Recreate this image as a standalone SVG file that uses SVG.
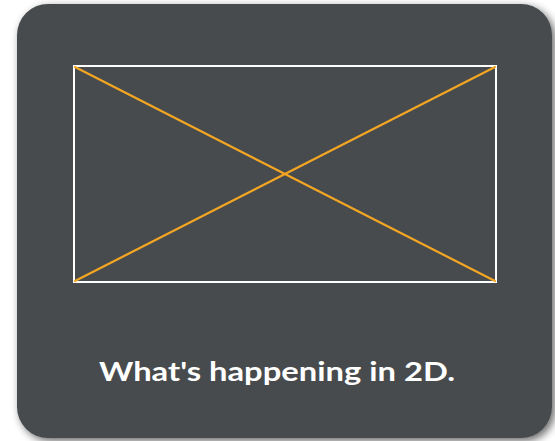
<svg xmlns="http://www.w3.org/2000/svg" width="555" height="441" viewBox="0 0 555 441">
<defs>
<filter id="sh" x="-10%" y="-10%" width="125%" height="125%">
<feGaussianBlur in="SourceAlpha" stdDeviation="4"/>
<feOffset dx="3" dy="3" result="b"/>
<feComponentTransfer><feFuncA type="linear" slope="0.6"/></feComponentTransfer>
<feMerge><feMergeNode/><feMergeNode in="SourceGraphic"/></feMerge>
</filter>
<style>
.card{fill:#464c4e}
.frame{fill:none;stroke:#ffffff;stroke-width:2}
.diag{stroke:#f5a623;stroke-width:2.2;stroke-linecap:round}
.lbl{fill:#ffffff;font-family:"Lato","Noto Sans",sans-serif;font-weight:bold;font-size:26px}
</style>
</defs>
<rect width="555" height="441" fill="#ffffff"/>
<g id="card">
<rect class="card" x="17" y="4" width="535" height="434" rx="31" ry="31" filter="url(#sh)"/>
</g>
<g id="frame">
<rect class="frame" x="74" y="66" width="422" height="216"/>
</g>
<g id="connectors">
<line class="diag" x1="75" y1="67" x2="495" y2="281"/>
<line class="diag" x1="75" y1="281" x2="495" y2="67"/>
</g>
<g id="caption">
<text class="lbl" x="277" y="381" text-anchor="middle" textLength="356" lengthAdjust="spacingAndGlyphs">What's happening in 2D.</text>
</g>
</svg>
